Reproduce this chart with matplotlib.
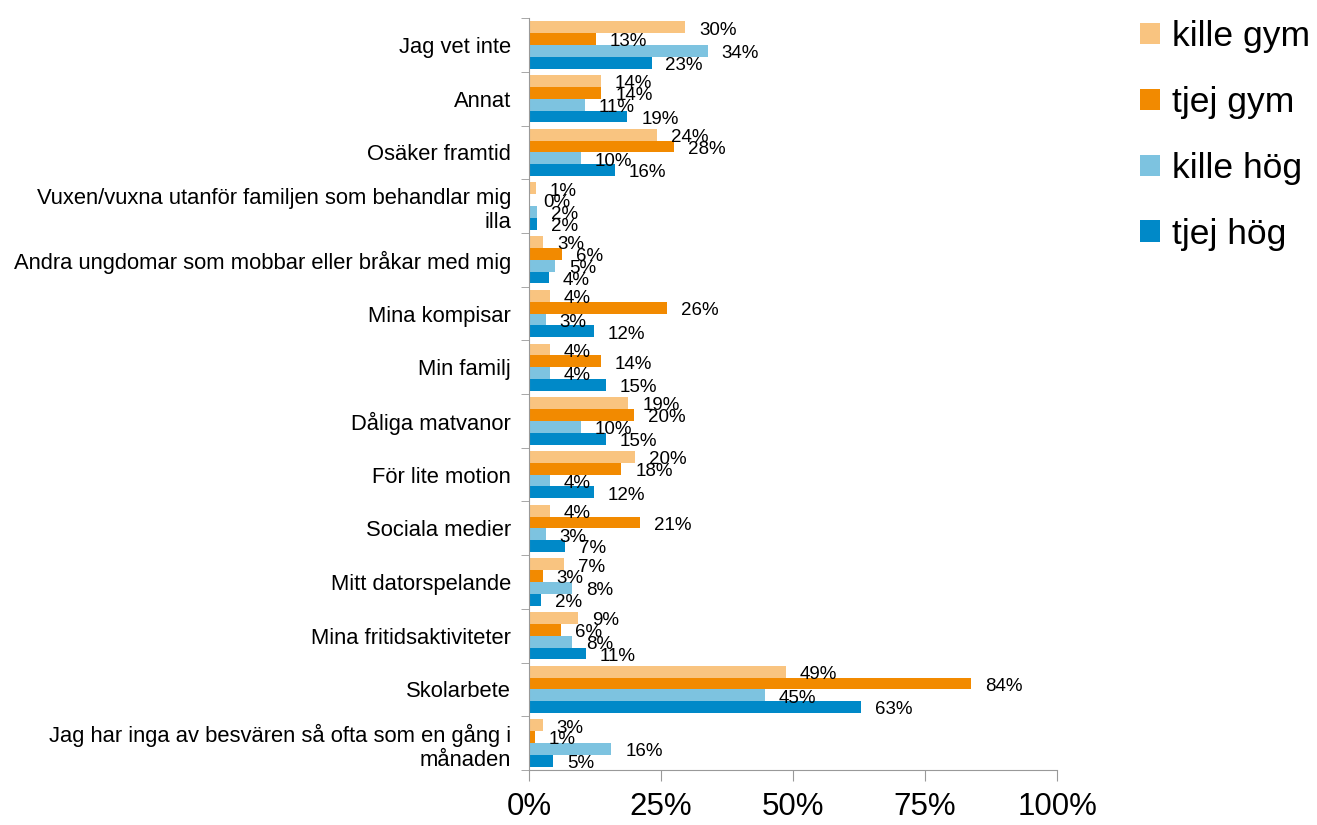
import numpy as np
import matplotlib.pyplot as plt
from matplotlib.ticker import FixedLocator

plt.rcParams['font.family'] = ['Liberation Sans', 'DejaVu Sans']

kategorier = ["Jag vet inte", "Annat", "Osäker framtid",
              "Vuxen/vuxna utanför familjen som behandlar mig\nilla",
              "Andra ungdomar som mobbar eller bråkar med mig",
              "Mina kompisar", "Min familj", "Dåliga matvanor", "För lite motion",
              "Sociala medier", "Mitt datorspelande", "Mina fritidsaktiviteter",
              "Skolarbete", "Jag har inga av besvären så ofta som en gång i\nmånaden"]

kille_gym = [29.6, 13.6, 24.2, 1.3, 2.7, 4.0, 4.0, 18.8, 20.1, 4.0, 6.6, 9.3, 48.6, 2.6]
tjej_gym = [12.6, 13.7, 27.5, 0.0, 6.2, 26.1, 13.6, 19.9, 17.5, 21.1, 2.6, 6.1, 83.7, 1.1]
kille_hog = [33.8, 10.6, 9.8, 1.6, 4.9, 3.2, 4.0, 9.8, 4.0, 3.2, 8.1, 8.1, 44.7, 15.6]
tjej_hog = [23.2, 18.6, 16.2, 1.5, 3.8, 12.3, 14.6, 14.6, 12.3, 6.8, 2.2, 10.7, 62.9, 4.6]

serier = ["kille gym", "tjej gym", "kille hög", "tjej hög"]
farger = ["#F9C480", "#F28A00", "#7DC3E0", "#0089C8"]

fig = plt.figure(figsize=(13.17, 8.25), dpi=100)
ax = fig.add_axes([0.4017, 0.0667, 0.401, 0.9113])

y = np.arange(len(kategorier))
h = 0.22
for i, (vals, namn, f) in enumerate(zip([kille_gym, tjej_gym, kille_hog, tjej_hog], serier, farger)):
    pos = y - 1.5 * h + i * h
    ax.barh(pos, vals, height=h, color=f, label=namn)
    for p, v in zip(pos, vals):
        ax.annotate(f"{round(v):.0f}%", (v, p), xytext=(10, -2), textcoords="offset points",
                    va="center", ha="left", fontsize=13.5)

ax.set_xlim(0, 100)
ax.set_ylim(len(kategorier) - 0.5, -0.5)
ax.set_xticks([0, 25, 50, 75, 100])
ax.set_xticklabels(["0%", "25%", "50%", "75%", "100%"], fontsize=22.5)
ax.set_yticks(y)
ax.set_yticklabels(kategorier, fontsize=15.8)
ax.yaxis.set_minor_locator(FixedLocator(np.arange(-0.5, len(kategorier), 1)))
ax.tick_params(axis="y", which="major", length=0, pad=13)
ax.tick_params(axis="y", which="minor", length=6, color="#999999", direction="out")
ax.tick_params(axis="x", length=8, color="#999999", direction="out", pad=8)
for s in ["top", "right"]:
    ax.spines[s].set_visible(False)
for s in ["left", "bottom"]:
    ax.spines[s].set_color("#999999")

fig.legend(loc="upper left", bbox_to_anchor=(0.847, 1.006), frameon=False, fontsize=25.5,
           handlelength=0.55, handleheight=0.55, handletextpad=0.35, labelspacing=0.93,
           borderaxespad=0.3)

fig.savefig("out.png", dpi=100)
